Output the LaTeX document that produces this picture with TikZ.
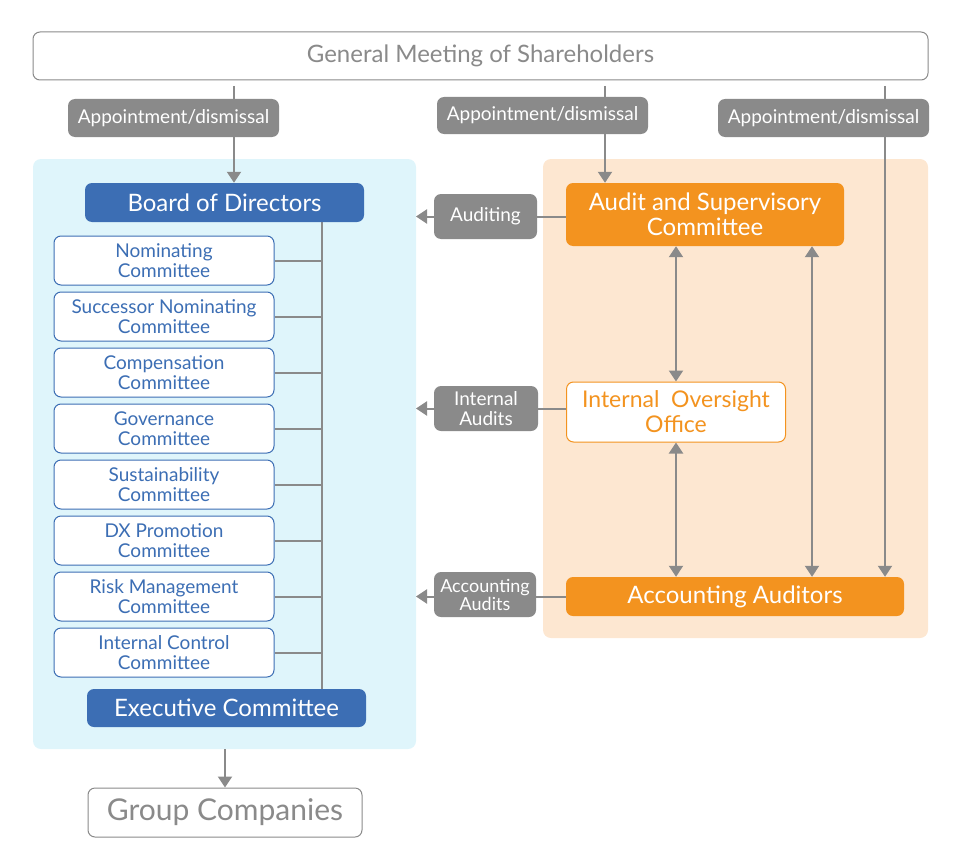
\documentclass[tikz,border=0pt]{standalone}
\usepackage{fontspec}
\setmainfont{Lato}
\usetikzlibrary{arrows.meta}
\definecolor{cgray}{HTML}{8A8A8A}
\definecolor{cblue}{HTML}{3C6EB4}
\definecolor{corange}{HTML}{F3931F}
\definecolor{cpeach}{HTML}{FDE7D1}
\definecolor{ccyan}{HTML}{DFF5FB}
\pgfdeclarelayer{bg}
\pgfdeclarelayer{lines}
\pgfsetlayers{bg,lines,main}
\tikzset{
  box/.style={rectangle, rounded corners=7pt, inner sep=0pt, align=center},
  topbox/.style={box, draw=cgray, line width=1pt, fill=white, text=cgray},
  lab/.style={box, fill=cgray, text=white, font=\fontsize{19}{21}\selectfont},
  bluebox/.style={box, fill=cblue, text=white, font=\fontsize{24}{26}\selectfont},
  comm/.style={box, draw=cblue, line width=1pt, fill=white, text=cblue, minimum width=220pt, minimum height=49pt, font=\fontsize{19}{20}\selectfont},
  orbox/.style={box, fill=corange, text=white, font=\fontsize{24}{25}\selectfont},
  conn/.style={draw=cgray, line width=2pt},
  tip/.style={-{Triangle[width=14pt,length=11pt]}},
  dtip/.style={{Triangle[width=14pt,length=11pt]}-{Triangle[width=14pt,length=11pt]}},
  panel/.style={rounded corners=8pt}
}
\begin{document}
\begin{tikzpicture}[x=1pt,y=-1pt]
\useasboundingbox (0,0) rectangle (960,856);
% panels
\begin{pgfonlayer}{bg}
\fill[ccyan,panel] (33,159) rectangle (416,749);
\fill[cpeach,panel] (543,159) rectangle (928,638);
\end{pgfonlayer}
% nodes
\node[topbox, minimum width=895pt, minimum height=48pt, font=\fontsize{24}{26}\selectfont] (gm) at (480.5,56) {General Meeting of Shareholders};
\node[lab, minimum width=211pt, minimum height=38pt] (ap1) at (173.5,118) {Appointment/dismissal};
\node[lab, minimum width=211pt, minimum height=37pt] (ap2) at (542.5,115.5) {Appointment/dismissal};
\node[lab, minimum width=211pt, minimum height=38pt] (ap3) at (823.5,118) {Appointment/dismissal};
\node[bluebox, minimum width=279pt, minimum height=39pt] (board) at (224.5,202.5) {Board of Directors};
\node[comm] (c1) at (164,260.5) {Nominating\\Committee};
\node[comm] (c2) at (164,316.5) {Successor Nominating\\Committee};
\node[comm] (c3) at (164,372.5) {Compensation\\Committee};
\node[comm] (c4) at (164,428.5) {Governance\\Committee};
\node[comm] (c5) at (164,484.5) {Sustainability\\Committee};
\node[comm] (c6) at (164,540.5) {DX Promotion\\Committee};
\node[comm] (c7) at (164,596.5) {Risk Management\\Committee};
\node[comm] (c8) at (164,652.5) {Internal Control\\Committee};
\node[bluebox, minimum width=279pt, minimum height=38pt] (exec) at (226.5,708) {Executive Committee};
\node[topbox, minimum width=274pt, minimum height=49pt, font=\fontsize{30}{32}\selectfont] (group) at (225,812.5) {Group Companies};
\node[orbox, minimum width=278pt, minimum height=63pt] (audit) at (705,214.5) {Audit and Supervisory\\Committee};
\node[box, draw=corange, line width=1pt, fill=white, text=corange, font=\fontsize{23}{25}\selectfont, minimum width=219pt, minimum height=60pt] (ioo) at (676,412) {Internal~~Oversight\\Office};
\node[orbox, minimum width=338pt, minimum height=39pt] (aa) at (735,596.5) {Accounting Auditors};
\node[lab, minimum width=103pt, minimum height=45pt] (auditing) at (485.5,216.5) {Auditing};
\node[lab, minimum width=104pt, minimum height=45pt, font=\fontsize{19}{20}\selectfont] (intaud) at (486,408.5) {Internal\\Audits};
\node[lab, minimum width=102pt, minimum height=45pt, font=\fontsize{18}{18}\selectfont] (accaud) at (485,594.5) {Accounting\\Audits};
% coordinates
\coordinate (g1) at (234,86);
\coordinate (g2) at (605,86);
\coordinate (g3) at (885,86);
\coordinate (bus) at (322,0);
\coordinate (pbot) at (225,749);
\coordinate (rline) at (812,0);
\coordinate (t1) at (416,216.5);
\coordinate (t2) at (416,408.5);
\coordinate (t3) at (416,596.5);
% connectors
\begin{pgfonlayer}{lines}
\draw[conn,tip] (g1) -- (g1 |- board.north);
\draw[conn,tip] (g2) -- (g2 |- audit.north);
\draw[conn,tip] (g3) -- (g3 |- aa.north);
\draw[conn] (bus |- board.south) -- (bus |- exec.north);
\foreach \c in {c1,c2,c3,c4,c5,c6,c7,c8}{
  \draw[conn] (\c.east) -- (bus |- \c.east);
}
\draw[conn,tip] (pbot) -- (group.north);
\draw[conn,tip] (audit.west |- t1) -- (t1);
\draw[conn,tip] (ioo.west |- t2) -- (t2);
\draw[conn,tip] (aa.west |- t3) -- (t3);
\draw[conn,dtip] (ioo.north |- audit.south) -- (ioo.north);
\draw[conn,dtip] (ioo.south) -- (ioo.south |- aa.north);
\draw[conn,dtip] (rline |- audit.south) -- (rline |- aa.north);
\end{pgfonlayer}
\end{tikzpicture}
\end{document}
